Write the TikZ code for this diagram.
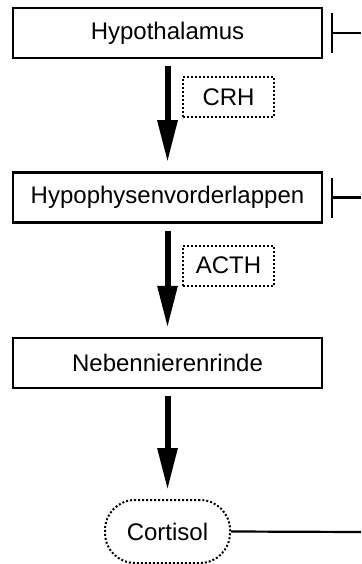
\documentclass[tikz,border=0pt]{standalone}
\usepackage{fontspec}
\setmainfont{Liberation Sans}
\usetikzlibrary{arrows.meta}

\tikzset{
    organ/.style={draw, line width=2.5pt, minimum width=309pt, minimum height=50pt, inner sep=0pt},
    hormone/.style={draw, line width=2pt, dash pattern=on 2pt off 2pt, minimum width=91pt, minimum height=40pt, inner sep=0pt},
    flow/.style={-{Triangle[length=42pt,width=19pt]}, line width=6pt, shorten <=7pt, shorten >=9pt},
    inhibit/.style={-{Bar[width=40pt]}, line width=2.2pt, shorten >=8pt}
}

\begin{document}
\begin{tikzpicture}[x=1pt, y=-1pt, font=\fontsize{24}{28}\selectfont]
    \useasboundingbox (0,0) rectangle (361,564);

    % Organs
    \node [organ] (hypo) at (167.5, 33) {Hypothalamus};
    \node [organ] (hvl) at (167.5, 197.5) {Hypophysenvorderlappen};
    \node [organ] (nnr) at (167.5, 363) {Nebennierenrinde};

    % Cortisol
    \node [draw, line width=2pt, dash pattern=on 2pt off 2pt, rounded corners=30pt,
           minimum width=125pt, minimum height=63pt] (cort) at (167.5, 531.5) {Cortisol};

    % Releasing hormones
    \node [hormone] (crh) at (228.5, 97) {CRH};
    \node [hormone] (acth) at (228.5, 265.5) {ACTH};

    % Axis
    \draw [flow] (hypo) -- (hvl);
    \draw [flow] (hvl) -- (nnr);
    \draw [flow] (nnr) -- (cort);

    % Feedback
    \coordinate (fbA) at (361, 33);
    \coordinate (fbB) at (361, 197.5);
    \coordinate (fbC) at (361, 532);
    \draw [inhibit] (fbA) -- (hypo.east);
    \draw [inhibit] (fbB) -- (hvl.east);
    \draw [line width=2.2pt] (cort.east) -- (fbC);
\end{tikzpicture}
\end{document}
